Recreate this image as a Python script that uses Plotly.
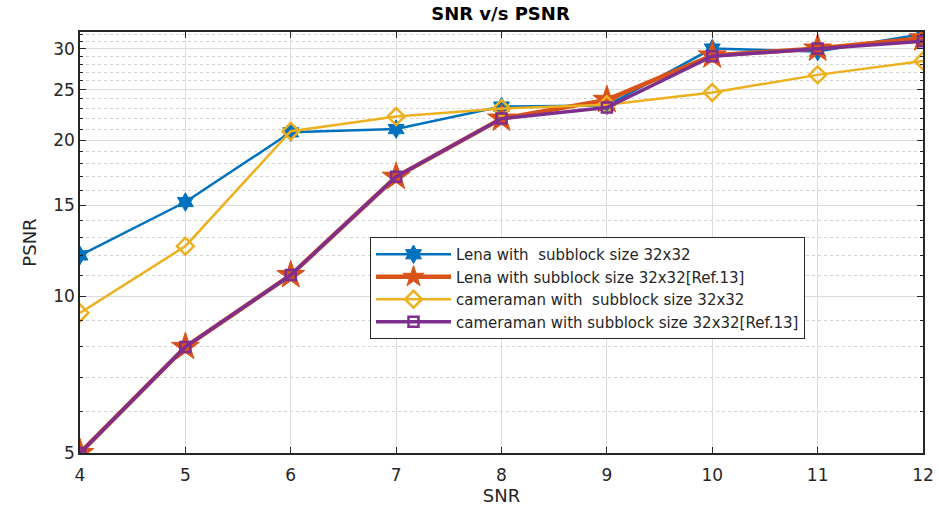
import plotly.graph_objects as go

# SNR values (x) and PSNR results for each configuration
snr = [4, 5, 6, 7, 8, 9, 10, 11, 12]
lena_32 = [12.0, 15.2, 20.7, 21.0, 23.2, 23.3, 30.0, 29.6, 32.0]
lena_32_ref13 = [5.0, 8.0, 11.0, 17.0, 22.0, 23.9, 29.1, 30.0, 31.4]
cameraman_32 = [9.3, 12.5, 20.8, 22.2, 23.0, 23.4, 24.7, 26.7, 28.4]
cameraman_32_ref13 = [5.0, 8.0, 11.0, 17.0, 22.0, 23.1, 29.0, 30.0, 31.0]

series_names = [
    "Lena with\u00a0 subblock size 32x32",
    "Lena with subblock size 32x32[Ref.13]",
    "cameraman with\u00a0 subblock size 32x32",
    "cameraman with subblock size 32x32[Ref.13]",
]

y_ticks = [5, 10, 15, 20, 25, 30]
y_minor = [v for v in range(6, 33) if v not in y_ticks]
x_ticks = [4, 5, 6, 7, 8, 9, 10, 11, 12]

FONT = "DejaVu Sans, Arial, sans-serif"
AX = "#262626"

fig = go.Figure()

styles = [
    dict(color="#0072BD", width=2.5, symbol="hexagram", size=14, fill=True),
    dict(color="#D95319", width=4.5, symbol="star", size=21, fill=True),
    dict(color="#EDB120", width=2.5, symbol="diamond-open", size=13, fill=False),
    dict(color="#7E2F8E", width=3.5, symbol="square-open", size=10, fill=False),
]
data = [lena_32, lena_32_ref13, cameraman_32, cameraman_32_ref13]

for name, ys, st in zip(series_names, data, styles):
    marker = dict(symbol=st["symbol"], size=st["size"], color=st["color"],
                  line=dict(color=st["color"], width=2.5 if not st["fill"] else 1))
    fig.add_trace(go.Scatter(
        x=snr, y=ys, name=name, mode="lines+markers",
        line=dict(color=st["color"], width=st["width"]),
        marker=marker,
    ))

fig.update_layout(
    width=939, height=507,
    margin=dict(l=80, r=16, t=32, b=54),
    paper_bgcolor="white", plot_bgcolor="white",
    font=dict(family=FONT, color=AX, size=16),
    title=dict(text="<b>SNR v/s PSNR</b>", x=0.533, xanchor="center",
               y=0.972, yanchor="middle", font=dict(size=18, color="#000000")),
    legend=dict(
        x=(370 - 80) / 843, y=(453 - 237) / 421, xanchor="left", yanchor="top",
        bgcolor="white", bordercolor="#262626", borderwidth=1,
        font=dict(size=15, color="#262626", family=FONT),
        tracegroupgap=0, itemwidth=75,
    ),
    showlegend=True,
)

fig.update_xaxes(
    range=[4, 12], tickvals=x_ticks, ticks="inside", ticklen=6,
    tickcolor=AX, showline=True, linecolor=AX, linewidth=1.5, mirror="ticks",
    showgrid=True, gridcolor="#dcdcdc", gridwidth=1, zeroline=False,
    tickfont=dict(size=17, color=AX), ticklabelstandoff=6, automargin=False,
    title=dict(text="SNR", font=dict(size=18, color=AX), standoff=4),
)

fig.update_yaxes(
    type="log", range=[0.69897, 1.509], tickvals=y_ticks,
    ticktext=[str(v) for v in y_ticks],
    ticks="inside", ticklen=6, tickcolor=AX,
    showline=True, linecolor=AX, linewidth=1.5, mirror="ticks",
    showgrid=True, gridcolor="#dcdcdc", gridwidth=1, zeroline=False,
    tickfont=dict(size=17, color=AX), automargin=False,
    minor=dict(tickvals=y_minor, ticks="inside", ticklen=3, tickcolor=AX,
               showgrid=True, gridcolor="#d4d4d4", griddash="dot", gridwidth=1),
    title=dict(text="PSNR", font=dict(size=18, color=AX), standoff=12),
)

fig.write_html("out.html")
